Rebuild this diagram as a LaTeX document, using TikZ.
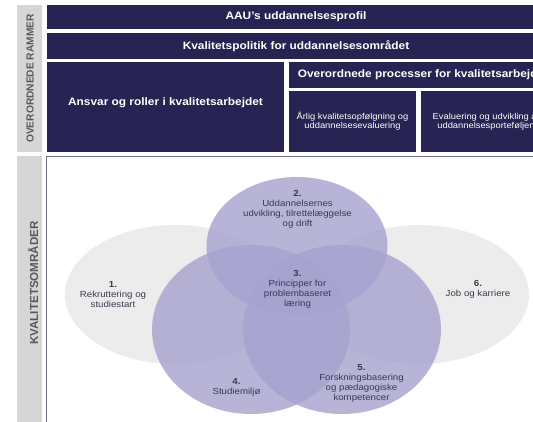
\documentclass[tikz,border=0pt]{standalone}
\usepackage{fontspec}
\setmainfont{Liberation Sans}[FakeStretch=1.1]
\newfontfamily\sidefont{Liberation Sans}
\definecolor{aaunavy}{RGB}{39,36,84}
\definecolor{aaupurple}{RGB}{167,162,207}
\definecolor{aaugray}{RGB}{236,236,236}
\definecolor{sidegray}{RGB}{214,214,214}
\definecolor{sidetext}{RGB}{88,88,98}
\definecolor{ringtext}{RGB}{58,56,80}
\definecolor{boxframe}{RGB}{112,110,140}
\begin{document}
\begin{tikzpicture}[x=1pt,y=-1pt,
   navybox/.style={fill=aaunavy,text=white,inner sep=0pt,font=\bfseries\fontsize{10.8}{13}\selectfont},
   subbox/.style={fill=aaunavy,text=white,inner sep=0pt,align=center,font=\fontsize{8.5}{9}\selectfont},
   sidebar/.style={fill=sidegray,inner sep=0pt},
   sidelabel/.style={rotate=90,text=sidetext,inner sep=0pt},
   sidearea/.style={fill=aaugray},
   ringarea/.style={fill=aaupurple,fill opacity=0.8},
   ringlabel/.style={align=center,text=ringtext,inner sep=0pt,font=\fontsize{8.8}{10}\selectfont}]
   \useasboundingbox (0,0) rectangle (533,422);
   \clip (0,0) rectangle (533,422);
   \node [sidebar,minimum width=25,minimum height=147] (ramcol) at (29.5,78.5) {};
   \node [sidebar,minimum width=25,minimum height=280] (omrcol) at (29.5,296) {};
   \node [sidelabel,font=\sidefont\bfseries\fontsize{10.2}{12}\selectfont] (ramlabel) at (30,78.5) {OVERORDNEDE RAMMER};
   \node [sidelabel,font=\sidefont\bfseries\fontsize{11.6}{13}\selectfont] (omrlabel) at (33,283) {KVALITETSOMRÅDER};
   \node [navybox,minimum width=498,minimum height=24] (profil) at (296,17) {AAU's uddannelsesprofil};
   \node [navybox,minimum width=498,minimum height=26] (politik) at (296,46) {Kvalitetspolitik for uddannelsesområdet};
   \node [navybox,minimum width=237,minimum height=90] (ansvar) at (165.5,107) {};
   \node [navybox,fill=none] (ansvartext) at (165.5,103) {Ansvar og roller i kvalitetsarbejdet};
   \node [navybox,minimum width=268,minimum height=26] (processer) at (423,75) {Overordnede processer for kvalitetsarbejdet};
   \node [subbox,minimum width=127,minimum height=61] (opfolgning) at (352.5,121.5) {Årlig kvalitetsopfølgning og\\uddannelsesevaluering};
   \node [subbox,minimum width=130,minimum height=61] (portefolje) at (486,121.5) {Evaluering og udvikling af\\uddannelsesporteføljen};
   \draw [boxframe,line width=1.3pt,fill=white] (46.5,156.5) rectangle (600,500);
   \fill [sidearea] (175,294.5) ellipse [x radius=110, y radius=69.5];
   \fill [sidearea] (419,294.5) ellipse [x radius=110, y radius=69.5];
   \fill [ringarea] (297,246) ellipse [x radius=90.5, y radius=69];
   \fill [ringarea] (251,329.5) ellipse [x radius=99, y radius=84.5];
   \fill [ringarea] (342,329.5) ellipse [x radius=99, y radius=84.5];
   \node [ringlabel] (rekruttering) at (113,294.5) {\textbf{1.}\\Rekruttering og\\studiestart};
   \node [ringlabel] (drift) at (297.5,209) {\textbf{2.}\\Uddannelsernes\\udvikling, tilrettelæggelse\\og drift};
   \node [ringlabel] (pbl) at (297.5,289.5) {\textbf{3.}\\Principper for\\problembaseret\\læring};
   \node [ringlabel] (studiemiljo) at (236.5,387) {\textbf{4.}\\Studiemiljø};
   \node [ringlabel] (forskning) at (361.5,383.5) {\textbf{5.}\\Forskningsbasering\\og pædagogiske\\kompetencer};
   \node [ringlabel] (karriere) at (478,289.5) {\textbf{6.}\\Job og karriere};
  \end{tikzpicture}
\end{document}
